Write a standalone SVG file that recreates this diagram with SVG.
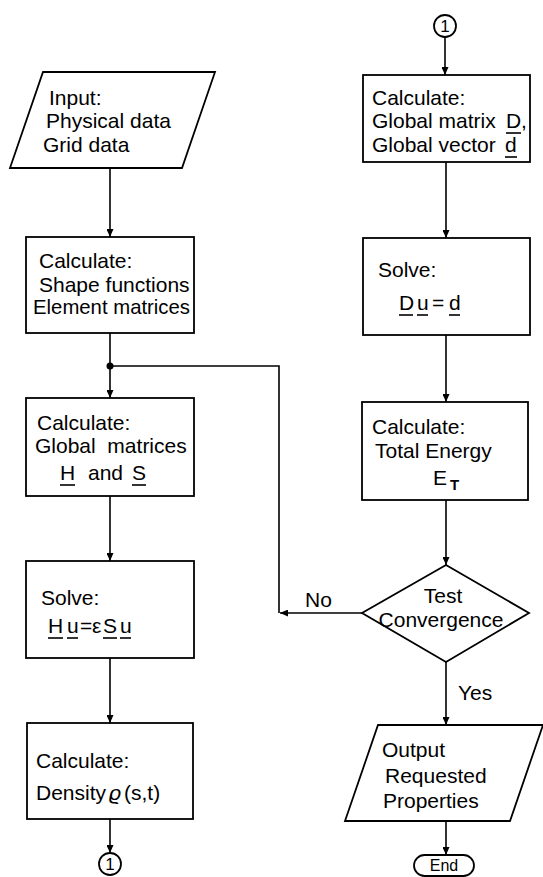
<svg xmlns="http://www.w3.org/2000/svg" width="543" height="877" viewBox="0 0 543 877">
<defs>
<marker id="ah" viewBox="0 0 8 7" refX="8" refY="3.5" markerWidth="8" markerHeight="7" markerUnits="userSpaceOnUse" orient="auto">
<path d="M0,0 L8,3.5 L0,7 z" fill="#000"/>
</marker>
<style>
.s{fill:#fff;stroke:#000;stroke-width:1.8}
.t{font-family:"Liberation Sans",Arial,sans-serif;font-size:21px;fill:#000}
.c{stroke:#000;stroke-width:1.6;fill:none}
.a{stroke:#000;stroke-width:1.6;fill:none;marker-end:url(#ah)}
.u{stroke:#000;stroke-width:1.6}
.m{text-anchor:middle}
</style>
</defs>
<rect width="543" height="877" fill="#fff"/>
<g id="connectors">
<line class="a" x1="110" y1="168" x2="110" y2="237"/>
<line class="a" x1="110" y1="333" x2="110" y2="398"/>
<line class="a" x1="110" y1="496" x2="110" y2="561"/>
<line class="a" x1="110" y1="658" x2="110" y2="723"/>
<line class="a" x1="110" y1="819" x2="110" y2="853"/>
<line class="a" x1="445" y1="37" x2="445" y2="75"/>
<line class="a" x1="446" y1="162" x2="446" y2="238"/>
<line class="a" x1="446" y1="335" x2="446" y2="402"/>
<line class="a" x1="446" y1="500" x2="446" y2="565"/>
<line class="a" x1="446" y1="662" x2="446" y2="725"/>
<line class="a" x1="446" y1="821" x2="446" y2="855"/>
<line class="a" x1="362" y1="613" x2="280" y2="613"/>
<polyline class="c" points="279,613 279,366 110,366"/>
<circle cx="110" cy="366" r="3.5" fill="#000"/>
<text class="t" x="305" y="607">No</text>
<text class="t" x="458" y="700">Yes</text>
</g>
<g id="input">
<polygon class="s" points="43,72 215,72 182,168 10,168"/>
<text class="t" x="49" y="105">Input:</text>
<text class="t" x="46" y="128">Physical data</text>
<text class="t" x="43" y="152">Grid data</text>
</g>
<g id="calc-shape">
<rect class="s" x="26" y="237" width="168" height="96"/>
<text class="t" x="39" y="268">Calculate:</text>
<text class="t" x="39" y="292">Shape functions</text>
<text class="t" x="33" y="314" textLength="157" lengthAdjust="spacingAndGlyphs">Element matrices</text>
</g>
<g id="calc-global">
<rect class="s" x="26" y="398" width="168" height="98"/>
<text class="t" x="37" y="430">Calculate:</text>
<text class="t" x="35" y="453" xml:space="preserve">Global  matrices</text>
<text class="t" y="480"><tspan x="60">H</tspan><tspan x="88">and</tspan><tspan x="132">S</tspan></text>
<line class="u" x1="60" y1="485" x2="75" y2="485"/>
<line class="u" x1="132" y1="485" x2="146" y2="485"/>
</g>
<g id="solve-eig">
<rect class="s" x="26" y="561" width="168" height="97"/>
<text class="t" x="41" y="605">Solve:</text>
<text class="t" y="633"><tspan x="48">H</tspan><tspan x="67">u</tspan><tspan x="80">=</tspan><tspan x="92">ε</tspan><tspan x="103">S</tspan><tspan x="120">u</tspan></text>
<line class="u" x1="48" y1="638" x2="63" y2="638"/>
<line class="u" x1="67" y1="638" x2="78" y2="638"/>
<line class="u" x1="103" y1="638" x2="117" y2="638"/>
<line class="u" x1="120" y1="638" x2="131" y2="638"/>
</g>
<g id="calc-density">
<rect class="s" x="27" y="723" width="166" height="96"/>
<text class="t" x="36" y="768">Calculate:</text>
<text class="t" y="800"><tspan x="36">Density</tspan><tspan x="109" font-style="italic">ϱ</tspan><tspan x="124">(s,t)</tspan></text>
</g>
<g id="conn-out">
<circle class="s" cx="110" cy="864" r="11"/>
<text class="t m" x="110" y="870" style="font-size:17px">1</text>
</g>
<g id="conn-in">
<circle class="s" cx="445" cy="26" r="11"/>
<text class="t m" x="445" y="32" style="font-size:17px">1</text>
</g>
<g id="calc-D">
<rect class="s" x="363" y="75" width="167" height="87"/>
<text class="t" x="372" y="105">Calculate:</text>
<text class="t" y="128"><tspan x="372">Global matrix</tspan><tspan x="506">D</tspan><tspan x="521">,</tspan></text>
<line class="u" x1="506" y1="133" x2="521" y2="133"/>
<text class="t" y="152"><tspan x="372">Global vector</tspan><tspan x="505">d</tspan></text>
<line class="u" x1="505" y1="157" x2="517" y2="157"/>
</g>
<g id="solve-D">
<rect class="s" x="363" y="238" width="167" height="97"/>
<text class="t" x="378" y="277">Solve:</text>
<text class="t" y="310"><tspan x="399">D</tspan><tspan x="417">u</tspan><tspan x="432">=</tspan><tspan x="449">d</tspan></text>
<line class="u" x1="399" y1="315" x2="413" y2="315"/>
<line class="u" x1="417" y1="315" x2="428" y2="315"/>
<line class="u" x1="449" y1="315" x2="460" y2="315"/>
</g>
<g id="calc-energy">
<rect class="s" x="362" y="402" width="166" height="98"/>
<text class="t" x="372" y="434">Calculate:</text>
<text class="t" x="375" y="458">Total Energy</text>
<text class="t" x="433" y="485">E</text>
<text class="t" x="450" y="490" style="font-size:15px;font-weight:bold">T</text>
</g>
<g id="test">
<polygon class="s" points="446,565 529,613 446,662 362,613"/>
<text class="t m" x="443" y="603">Test</text>
<text class="t m" x="441" y="627">Convergence</text>
</g>
<g id="output">
<polygon class="s" points="378,725 543,725 510,821 345,821"/>
<text class="t" x="382" y="757">Output</text>
<text class="t" x="385" y="783">Requested</text>
<text class="t" x="383" y="808">Properties</text>
</g>
<g id="end">
<rect class="s" x="414" y="855" width="60" height="21" rx="10.5"/>
<text class="t m" x="444" y="871" style="font-size:16px">End</text>
</g>
</svg>
